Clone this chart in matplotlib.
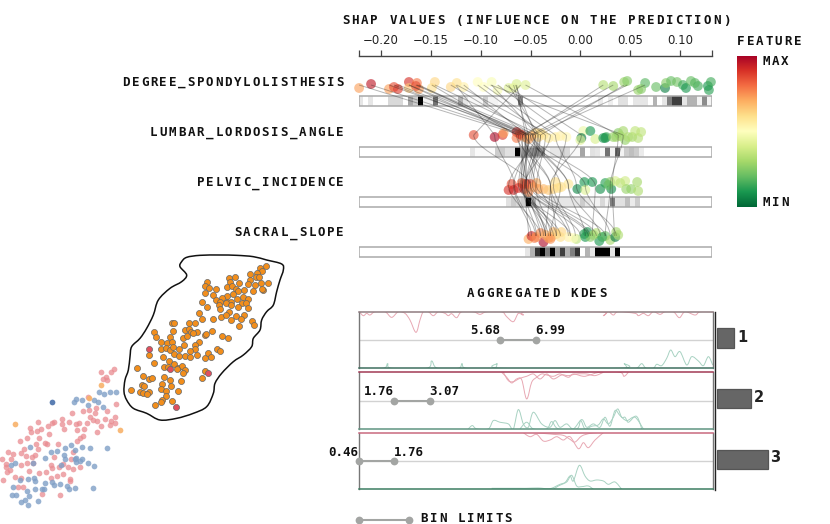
import numpy as np
import matplotlib
matplotlib.use("Agg")
import matplotlib.pyplot as plt
from matplotlib.path import Path
from matplotlib.patches import PathPatch, Rectangle
from matplotlib.text import Text
from matplotlib.transforms import Bbox

W, H = 830, 524

# ---------- data ----------
features = ["DEGREE_SPONDYLOLISTHESIS", "LUMBAR_LORDOSIS_ANGLE", "PELVIC_INCIDENCE", "SACRAL_SLOPE"]
shap_ticks = [-0.20, -0.15, -0.10, -0.05, 0.00, 0.05, 0.10]
shap_tick_labels = ["\u22120.20", "\u22120.15", "\u22120.10", "\u22120.05", "0.00", "0.05", "0.10"]

r1_shap = [-.222,-.210,-.192,-.187,-.183,-.172,-.172,-.164,-.162,-.165,-.146,-.149,-.130,-.124,-.117,-.103,-.097,-.089,-.083,-.072,-.064,-.067,-.055,.023,.033,.044,.047,.065,.058,.061,.076,.085,.086,.091,.097,.103,.106,.111,.118,.115,.128,.131,.129]
r1_jit = [3,-1,4,2,4,-3,3,-2,4,1,-3,3,2,-2,2,-3,2,-3,5,3,-1,3,0,0,1,-3,-4,-2,5,4,2,3,-2,-4,-3,0,3,-4,1,-2,1,-3,5]
r1_val = [.72,.95,.72,.85,.88,.9,.65,.78,.72,.85,.62,.6,.62,.6,.55,.5,.5,.48,.47,.42,.4,.43,.42,.33,.3,.28,.25,.18,.28,.25,.2,.05,.25,.2,.22,.15,.1,.2,.15,.18,.1,.15,.12]

r2_shap = [-.107,-.086,-.078,-.077,-.064,-.064,-.059,-.056,-.052,-.045,-.042,-.037,-.032,-.025,-.014,.003,.010,.001,.000,.015,.025,.036,.038,.043,.045,.052,.055,.058,.061,.026,.023,-.020,-.049,-.061,-.040,.040,.048,.033]
r2_jit = [0,2,0,-2,-3,3,0,2,4,-2,2,0,3,2,2,-4,-4,3,5,4,3,2,-2,-4,5,2,-4,3,-3,2,3,1,1,-1,-2,1,2,2]
r2_val = [.85,.98,.88,.72,.92,.78,.9,.72,.72,.62,.62,.58,.57,.55,.52,.45,.1,.02,.42,.4,.05,.3,.25,.3,.27,.3,.35,.33,.35,.15,.1,.55,.7,.85,.6,.3,.32,.28]

r3_shap = [-.072,-.069,-.067,-.059,-.054,-.056,-.052,-.044,-.042,-.037,-.032,-.025,-.027,-.019,-.012,-.003,.004,.005,.012,.020,.025,.031,.030,.035,.045,.046,.051,.057,.058,-.057,-.050,-.047,-.062,-.022,.040,.028]
r3_jit = [4,-2,4,-3,-2,3,6,-3,3,3,4,-4,3,1,-2,3,-4,4,-4,3,-3,3,-4,-5,-5,3,3,-4,5,-2,-2,1,2,2,-3,-1]
r3_val = [.9,.85,.92,.8,.98,.88,.75,.7,.72,.68,.65,.6,.62,.6,.58,.07,.1,.42,.1,.08,.12,.08,.25,.4,.38,.28,.27,.3,.32,.8,.82,.72,.9,.6,.35,.2]

r4_shap = [-.052,-.049,-.040,-.037,-.032,-.027,-.029,-.019,-.020,-.012,-.004,.005,.007,.016,.019,.025,.030,.035,.036,-.044,-.035,-.024,-.007,.013,.038,-.046,-.030,.010,.022,.004]
r4_jit = [3,0,-3,6,2,-4,1,-4,1,1,3,1,-4,-3,5,0,4,1,-4,1,-1,-2,2,-1,-1,2,3,1,1,-2]
r4_val = [.7,.92,.75,.98,.72,.68,.7,.62,.6,.55,.35,.1,.08,.33,.1,.2,.3,.03,.3,.72,.7,.62,.5,.3,.32,.78,.74,.25,.15,.12]

shap_rows = [(r1_shap, r1_jit, r1_val), (r2_shap, r2_jit, r2_val), (r3_shap, r3_jit, r3_val), (r4_shap, r4_jit, r4_val)]

# same instance across the four features
link_r1 = [-.222,-.210,-.192,-.187,-.183,-.172,-.172,-.164,-.162,-.165,-.146,-.149,-.130,-.124,-.117,-.103,-.097,-.089,-.083,-.072,-.064,-.067,-.055,-.065,.023,.033,.047,.065,.044,-.060,-.125,-.090,-.075]
link_r2 = [-.060,-.055,-.052,-.058,-.050,-.048,-.062,-.045,-.056,-.052,-.040,-.064,-.047,-.030,-.054,-.035,-.025,-.043,-.014,-.042,-.055,-.052,.038,-.045,-.055,-.058,-.050,-.048,-.040,-.107,-.086,.043,.001]
link_r3 = [-.045,-.062,-.058,-.030,-.067,-.020,-.054,-.072,-.040,-.056,-.048,-.030,-.012,-.056,-.060,-.044,-.004,-.052,-.027,-.050,.005,-.058,.032,-.055,-.054,-.059,-.012,.015,-.055,-.050,-.066,.030,-.030]
link_r4 = [-.030,-.010,-.044,-.035,-.049,-.030,.000,-.040,-.012,-.037,.016,-.024,.005,-.052,-.020,.025,.036,-.035,-.005,.010,.030,-.027,.034,.008,-.040,-.032,.020,.012,-.024,-.035,-.045,.025,-.010]

strip_starts = [-.2226, -.1107, -.0749, -.0552]
strip1 = [.1,0,.1,0,0,0,.15,.15,.15,0,.35,.2,1,.05,.05,.55,.05,.05,.05,.05,.3,.1,.03,.03,.03,.2,.05,.05,.02,.02,.02,.02,.45,0,0,0,0,0,0,0,0,0,0,0,0,0,0,0,.08,0,.07,0,.12,.12,0,.1,.1,.1,0,.3,0,.1,.5,.75,.75,.1,.3,.3,.05,.45,.05]
strip2 = [.1,.02,.02,.02,.02,.2,.2,.12,.12,1,.3,.35,.45,.45,.4,.05,.1,.1,.2,.15,.03,.03,.35,0,.12,.1,.03,.55,.05,.6,.05,.2,.25,.2,.08]
strip3 = [.12,.2,.15,.2,1,.3,.1,.05,.05,.1,.1,.1,.1,.1,.1,.2,.1,.05,.05,.15,.05,.5,.12,.12,.25,.08,.2]
strip4 = [.1,.3,.8,1,.5,1,.35,.75,.3,.5,.8,0,.3,.1,1,1,1,.1,1]
strips = [strip1, strip2, strip3, strip4]

kde1_red_x = [118,130,140,150,165,195,215,235,255,270,288,300,310,325,340,355,375,385,395,410,425,460,480,500,545,560,580,595,610,625,840,850,865,880,895,945,955,970,985,1000,1020,1035,1060,1078,1095,1125,1140,1178]
kde1_red_y = [0,12,5,10,0,0,17,0,5,25,62,25,0,0,12,0,5,12,6,18,0,0,8,0,0,15,30,5,10,0,0,12,0,10,0,5,12,5,12,0,8,0,0,18,0,10,0,0]
kde1_grn_x = [118,190,203,215,320,335,352,415,426,438,520,532,545,900,912,925,950,965,978,1000,1010,1025,1040,1052,1065,1080,1100,1115,1135,1150,1165,1178]
kde1_grn_y = [0,0,14,0,0,22,0,0,14,0,0,14,0,0,14,0,0,14,0,0,12,8,30,55,35,50,10,35,22,8,35,10]
kde2_red_ax = [545,560,575,590,605,620,635,650,665,680,700,720,745,760,790,810,840,900,912,925]
kde2_red_ay = [0,15,32,20,22,80,30,15,5,8,12,5,15,5,12,8,0,0,12,0]
kde2_red_bx = [550,565,580,600,620,640,660,680,700,725,745,770,800,825,850]
kde2_red_by = [0,25,28,18,12,5,20,5,20,8,10,5,5,10,0]
kde2_grn_ax = [445,457,470,505,520,540,565,580,595,610,625,640,665,690,705,720,740,760,785,800,820,840,855,870,885,900,920,945,970]
kde2_grn_ay = [0,10,0,0,25,20,15,0,58,15,5,50,15,5,25,5,15,0,28,5,15,5,35,8,55,40,25,35,0]
kde2_grn_bx = [600,620,640,680,695,715,770,782,795,815,835,850,865,880,893,905,915,925,945,955,965]
kde2_grn_by = [0,20,0,0,22,0,0,25,0,8,12,30,15,35,60,35,35,20,38,30,0]
kde3_red_ax = [610,630,650,670,690,710,730,750,775,790,805,825,850]
kde3_red_ay = [0,12,5,25,22,12,22,12,48,30,45,22,0]
kde3_red_bx = [640,680,700,730,750,765,785,810,830]
kde3_red_by = [0,3,5,8,20,28,10,2,0]
kde3_grn_ax = [700,715,735,750,760,778,795,810,830,850,865,885,905]
kde3_grn_ay = [0,10,20,40,25,72,40,25,28,25,15,22,0]
kde3_grn_bx = [515,600,620,655,690,720,740,755,770,785,805,820]
kde3_grn_by = [3,3,3,4,2,15,22,42,10,8,10,0]

bin_limits = [(5.68, 6.99), (1.76, 3.07), (0.46, 1.76)]
bin_labels = ["1", "2", "3"]
bin_shares = [33, 67, 100]

cluster_outline_x = [185,200,240,300,350,400,440,485,490,480,470,460,440,425,420,400,395,370,340,305,285,280,260,220,170,120,80,40,20,12,15,25,30,35,60,80,100,115,150,185,200,180]
cluster_outline_y = [35,22,16,15,16,20,30,42,60,90,125,165,185,210,240,265,290,315,335,370,400,430,470,490,505,510,490,475,450,425,390,360,320,290,265,235,195,150,115,95,75,50]
orange_x = [437,421,427,412,390,407,418,345,328,330,358,390,383,406,424,445,260,254,266,320,336,429,425,399,287,347,354,371,254,279,320,338,307,369,288,300,320,333,352,385,245,366,379,262,298,300,318,332,354,383,326,236,304,318,348,371,246,278,332,364,397,401,358,155,163,206,226,160,196,208,214,232,275,101,108,150,190,202,220,256,258,305,325,124,142,155,124,137,149,160,178,192,237,224,224,211,291,300,161,176,196,209,231,254,265,273,87,129,148,102,163,131,143,175,185,196,50,190,172,254,245,70,88,97,131,151,183,125,152,65,73,34,124,137,173,61,70,88,80,137,127,124,155,105]
orange_y = [47,53,62,68,73,82,80,82,85,95,98,90,102,104,100,100,97,108,114,110,107,120,118,123,118,118,124,120,130,134,138,133,145,140,150,155,157,155,148,148,155,158,160,170,165,178,160,165,172,175,186,190,200,195,197,195,207,208,211,207,213,224,228,220,220,220,219,243,240,238,247,247,243,246,260,262,265,258,250,255,253,258,263,275,280,277,296,295,300,292,297,286,275,285,296,303,298,302,313,317,318,320,316,323,308,320,316,321,333,340,342,352,352,355,348,360,354,368,358,363,384,378,388,385,380,389,393,403,409,406,408,420,416,423,423,425,430,425,432,438,450,455,454,464]
crimson_x = [88,149,265,167]
crimson_y = [298,358,370,472]

pink_x = [342,304,332,318,309,322,265,217,249,268,287,284,322,347,344,334,346,316,330,302,292,270,280,290,260,236,228,232,252,208,186,186,193,162,155,144,113,90,92,112,122,146,116,80,59,136,140,174,250,240,230,109,114,72,62,24,38,79,104,97,33,7,17,17,31,20,62,80,99,87,117,153,157,178,190,204,212,162,219,219,240,188,171,153,139,46,63,9,209,209,68,55,125,181]
pink_y = [26,36,37,52,58,60,110,159,152,150,143,158,152,131,170,183,190,177,195,197,216,172,180,182,188,190,192,209,207,186,176,192,207,185,188,197,185,205,217,214,208,221,235,233,243,250,252,253,228,233,243,253,267,268,278,275,283,288,285,292,298,298,312,320,331,335,316,310,308,333,338,315,323,322,312,321,297,291,277,328,322,343,349,354,337,350,355,360,358,362,381,381,402,406]
blue_x = [228,223,245,298,313,329,349,283,295,265,308,91,153,170,194,213,226,247,271,321,191,195,136,227,227,240,246,225,265,281,184,32,46,100,60,85,102,106,104,134,157,163,179,201,206,224,278,38,80,87,35,48,76,63,113,85,126,133]
blue_y = [118,125,121,95,102,97,96,121,125,134,141,262,277,274,264,255,270,262,265,265,285,298,295,293,305,303,296,298,308,317,315,314,308,308,360,357,353,362,386,368,367,376,373,377,388,383,383,380,394,408,406,406,421,425,423,436,388,388]
pale_orange_x = [46,361,304,266]
pale_orange_y = [193,211,75,115]
deep_blue_x = [155]
deep_blue_y = [127]

# ---------- helpers ----------
TEXT = "#111111"
GRAY_DOT = "#a3a5a3"
RED_KDE = "#e8a8b3"
GRN_KDE = "#a8d2c2"


def px_axes(x, y, w, h, **kw):
    return fig.add_axes([x / W, 1 - (y + h) / H, w / W, h / H], **kw)


def smooth(xs, ys, closed=False):
    p = np.column_stack([xs, ys]).astype(float)
    n = len(p)
    verts, codes = [p[0]], [Path.MOVETO]
    for i in range(n if closed else n - 1):
        if closed:
            a, b, c, d = p[(i - 1) % n], p[i], p[(i + 1) % n], p[(i + 2) % n]
        else:
            a, b, c, d = p[max(i - 1, 0)], p[i], p[i + 1], p[min(i + 2, n - 1)]
        verts += [b + (c - a) / 6, c - (d - b) / 6, c]
        codes += [Path.CURVE4] * 3
    return Path(verts, codes)


class SpacedText(Text):
    """One text artist drawn with a fixed letter pitch (pixels)."""

    def __init__(self, x, y, s, pitch, **kw):
        super().__init__(x, y, s, ha="center", va="center", **kw)
        self.pitch = pitch

    def draw(self, renderer):
        s = self.get_text()
        x0 = self.get_position()[0]
        for i, c in enumerate(s):
            if c != " ":
                self.set_text(c)
                self.set_x(x0 + i * self.pitch)
                super().draw(renderer)
        self.set_text(s)
        self.set_x(x0)

    def get_window_extent(self, renderer=None, dpi=None):
        x, y = self.get_transform().transform(self.get_position())
        n = len(self.get_text())
        return Bbox([[x - 4, y - 4], [x + (n - 1) * self.pitch + 4, y + 4]])


def spaced(x, y, s, pitch=9.35, size=9.0):
    t = SpacedText(x, y, s, pitch, family="DejaVu Sans Mono", weight="bold",
                   fontsize=size, color=TEXT)
    ax_px.add_artist(t)
    t.set_transform(ax_px.transData)
    return t


fig = plt.figure(figsize=(W / 100, H / 100), dpi=100, facecolor="white")

# ---------- SHAP axes: x in SHAP value, y in pixels ----------
ax = px_axes(359, 56, 353.3, 206)
ax.set_xlim(-.2221, .1324)
ax.set_ylim(262, 56)
ax.patch.set_alpha(0)
for s in ("left", "right", "bottom"):
    ax.spines[s].set_visible(False)
ax.spines["top"].set_color("#444444")
ax.spines["top"].set_linewidth(1.0)
ax.xaxis.tick_top()
ax.set_xticks(shap_ticks)
ax.set_xticklabels(shap_tick_labels, fontsize=8.5, color="#222222")
ax.set_xticks([-.2221, .1324], minor=True)
ax.tick_params(axis="x", which="both", length=4.3, width=0.9, color="#444444", pad=2.5)
ax.set_yticks([])

centers = [85, 135, 186, 236]
strip_tops = [96, 146.7, 196.8, 247.4]
strip_h = 10
bin_w = 0.005
for cy, top, st, vals, (xs, js, cs) in zip(centers, strip_tops, strip_starts, strips, shap_rows):
    edges = st + bin_w * np.arange(len(vals) + 1)
    ax.pcolormesh(edges, [top, top + strip_h], [vals], cmap="gray_r", vmin=0, vmax=1, zorder=1)
    ax.add_patch(Rectangle((-.2221, top), .3545, strip_h, fc="none", ec="#aaaaaa", lw=1.1, zorder=2))
    ax.scatter(xs, cy + np.array(js), c=cs, cmap="RdYlGn_r", vmin=0, vmax=1, s=50,
               alpha=0.62, linewidths=0, zorder=3, clip_on=False)

link_cols = [link_r1, link_r2, link_r3, link_r4]
gap_bend = [0.0, 0.3, 0.3]
for a, b, ya, yb, bend in zip(link_cols[:-1], link_cols[1:], centers[:-1], centers[1:], gap_bend):
    for xa, xb in zip(a, b):
        d = (yb - ya) * 0.3
        if bend == 0:
            path = Path([(xa, ya), (xb, yb)])
        else:
            path = Path([(xa, ya), (xa, ya + d), (xb, yb - d), (xb, yb)],
                        [Path.MOVETO, Path.CURVE4, Path.CURVE4, Path.CURVE4])
        ax.add_patch(PathPatch(path, fc="none", ec="#222222", lw=0.7, alpha=0.33, zorder=4))

# ---------- colour bar ----------
cb = px_axes(737, 55.5, 20, 151.5)
cb.imshow(np.linspace(0, 1, 256)[:, None], cmap="RdYlGn", aspect="auto")
cb.axis("off")

# ---------- KDE panels ----------
panel_tops = [311.7, 372.3, 432.7]
panel_h = 56.6
top_cols = ["#8f7c80", "#a23a55", "#c9697f"]
bot_cols = ["#3f6f5f", "#5f9481", "#3c7d62"]
kde_red = [[(kde1_red_x, kde1_red_y)],
           [(kde2_red_ax, kde2_red_ay), (kde2_red_bx, kde2_red_by)],
           [(kde3_red_ax, kde3_red_ay), (kde3_red_bx, kde3_red_by)]]
kde_grn = [[(kde1_grn_x, kde1_grn_y)],
           [(kde2_grn_ax, kde2_grn_ay), (kde2_grn_bx, kde2_grn_by)],
           [(kde3_grn_ax, kde3_grn_ay), (kde3_grn_bx, kde3_grn_by)]]
for top, tc, bc, reds, grns, lims in zip(panel_tops, top_cols, bot_cols, kde_red, kde_grn, bin_limits):
    p = px_axes(359.3, top, 353.4, panel_h)
    p.set_xlim(118, 1178)
    p.set_ylim(-85, 85)
    p.set_xticks([])
    p.set_yticks([])
    for s in ("left", "right"):
        p.spines[s].set_color("#777777")
        p.spines[s].set_linewidth(1.0)
    p.spines["top"].set_color(tc)
    p.spines["bottom"].set_color(bc)
    p.spines["top"].set_linewidth(1.1)
    p.spines["bottom"].set_linewidth(1.1)
    p.axhline(0, color="#d2d2d2", lw=1.0, zorder=1)
    for xs, ys in reds:
        p.add_patch(PathPatch(smooth(xs, 85 - np.array(ys)), fc="none", ec=RED_KDE, lw=0.7, zorder=2))
    for xs, ys in grns:
        p.add_patch(PathPatch(smooth(xs, -85 + np.array(ys)), fc="none", ec=GRN_KDE, lw=0.7, zorder=2))
    t = p.twiny()
    t.set_xlim(0.46, 13.53)
    t.axis("off")
    t.plot(lims, [0, 0], color=GRAY_DOT, lw=1.5, marker="o", ms=5.6, mew=0,
           clip_on=False, zorder=5)

# ---------- bin size bars ----------
bx = px_axes(717, 311.7, 50.7, 177.6)
bx.set_xlim(0, 100)
bx.set_ylim(177.6, 0)
bx.axis("off")
bar_y = [26.5, 86.6, 147.6]
bx.barh(bar_y, bin_shares, height=19.5, color="#666666", edgecolor="#555555", linewidth=0.9, clip_on=False)

# ---------- projection scatter (lower left) ----------
a1 = px_axes(0, 360, 130, 150)
a1.set_xlim(0, 390)
a1.set_ylim(450, 0)
a1.axis("off")
a1.scatter(pink_x, pink_y, s=17, color="#e98b90", alpha=0.75, linewidths=0, clip_on=False)
a1.scatter(blue_x, blue_y, s=17, color="#7f9fc6", alpha=0.8, linewidths=0, clip_on=False)
a1.scatter(pale_orange_x, pale_orange_y, s=17, color="#f8b26a", alpha=0.9, linewidths=0, clip_on=False)
a1.scatter(deep_blue_x, deep_blue_y, s=17, color="#5b7fb3", linewidths=0, clip_on=False)

# ---------- selected cluster ----------
a2 = px_axes(120, 250, 170, 175)
a2.set_xlim(0, 510)
a2.set_ylim(525, 0)
a2.axis("off")
a2.add_patch(PathPatch(smooth(cluster_outline_x, cluster_outline_y, closed=True), fc="none", ec="#111111", lw=1.1, clip_on=False))
a2.scatter(orange_x, orange_y, s=19, color="#f28e1c", edgecolors="#666666", linewidths=0.5, zorder=3)
a2.scatter(crimson_x, crimson_y, s=19, color="#e0505e", edgecolors="#666666", linewidths=0.5, zorder=3)

# ---------- text layer ----------
ax_px = fig.add_axes([0, 0, 1, 1], zorder=10)
ax_px.set_xlim(0, W)
ax_px.set_ylim(H, 0)
ax_px.axis("off")

spaced(345.5, 21, "SHAP VALUES (INFLUENCE ON THE PREDICTION)", pitch=9.53)
spaced(741, 41.5, "FEATURE", pitch=9.4)
spaced(766, 61.5, "MAX", pitch=9.4)
spaced(766, 202, "MIN", pitch=9.4)
spaced(471, 293.5, "AGGREGATED KDES", pitch=9.4)
spaced(424, 519, "BIN LIMITS", pitch=9.35)
for name, y in zip(features, [82, 132.5, 183, 233]):
    spaced(345 - (len(name) - 0.5) * 9.3 - 0.5, y, name, pitch=9.3)

num_kw = dict(family="DejaVu Sans Mono", weight="bold", fontsize=9, color=TEXT, ha="center", va="center")
for lims, ly, xs in zip(bin_limits, [331, 391.5, 452.3], [(485.3, 550.3), (379, 444.5), (343.5, 409)]):
    for v, x in zip(lims, xs):
        ax_px.text(x, ly, f"{v:.2f}", **num_kw)

for lab, x, y in zip(bin_labels, [742, 759, 775.5], [337.5, 397.5, 458]):
    ax_px.text(x, y, lab, fontsize=10.5, weight="bold", color="#222222", ha="center", va="center")

ax_px.plot([715.3, 715.3], [311.7, 489.5], color="#222222", lw=1.0)
ax_px.plot([358.5, 408.7], [520, 520], color=GRAY_DOT, lw=1.5, marker="o", ms=5.6, mew=0)

fig.savefig("out.png", dpi=100)
